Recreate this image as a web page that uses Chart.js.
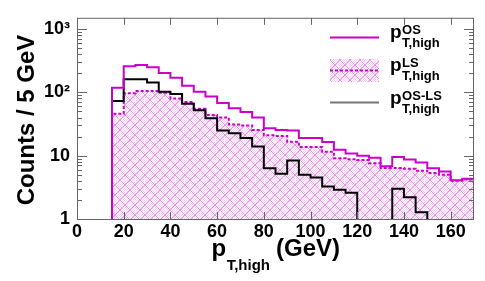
<!DOCTYPE html>
<html>
<head>
<meta charset="utf-8">
<title>pT,high</title>
<script src="https://cdn.jsdelivr.net/npm/chart.js@4.4.1/dist/chart.umd.min.js"></script>
<style>
    html, body { margin: 0; padding: 0; background: #fff; }
    #wrap { width: 485px; height: 281px; }
</style>
</head>
<body>
<div id="wrap"><canvas id="ptChart" width="485" height="281"></canvas></div>
<script>
// lower edges of the 5 GeV bins
const binLow = [15, 20, 25, 30, 35, 40, 45, 50, 55, 60, 65, 70, 75, 80, 85, 90, 95, 100,
                105, 110, 115, 120, 125, 130, 135, 140, 145, 150, 155, 160, 165];
const binHigh = 170;

const osCounts = [118, 258, 270, 249, 201, 170, 127, 102, 86, 68, 56, 49, 40, 27, 25.5, 25,
                  19, 19, 16.4, 12.4, 10.8, 10.0, 9.3, 6.8, 9.5, 8.7, 7.8, 6.3, 5.6, 4.1, 4.3];
const lsCounts = [46, 97, 105, 105, 98, 80, 70, 55, 44, 40, 31, 30, 25.5, 21, 20.5, 16.6,
                  13.7, 13.7, 11.5, 9.1, 8.8, 8.5, 7.6, 6.4, 6.4, 6.2, 5.8, 5.3, 5.0, 4.0, 4.2];
const osMinusLsCounts = [73, 160, 160, 143, 102, 94, 66, 52, 39, 25, 22.6, 19, 14, 6.3, 5.2, 8.4,
                         5.0, 4.5, 3.25, 2.9, 2.6, 0, 0, 0, 3.0, 2.2, 1.28, 0, 0, 0, 0];

const xTickValues = [0, 20, 40, 60, 80, 100, 120, 140, 160];
const yTickValues = [1, 10, 100, 1000];
const yTickLabels = ['1', '10', '10\u00B2', '10\u00B3'];

const FONT = '"Liberation Sans", Arial, sans-serif';
const MAGENTA = '#cc00cc';
const FRAME = '#666';

// empty bins sit below the log axis so the step drops to the frame
const FLOOR = 0.1;

function histPoints(counts) {
    const pts = [{ x: binLow[0], y: FLOOR }];
    counts.forEach((v, i) => pts.push({ x: binLow[i], y: v > 0 ? v : FLOOR }));
    const last = counts[counts.length - 1];
    pts.push({ x: binHigh, y: last > 0 ? last : FLOOR });
    return pts;
}

function makeHatch(ctx) {
    const n = 10;
    const c = document.createElement('canvas');
    c.width = n; c.height = n;
    const g = c.getContext('2d');
    g.fillStyle = '#f5d2f5';
    for (let y = 0; y < n; y++) {
        for (let x = 0; x < n; x++) {
            if ((x + y) % 2 === 0) g.fillRect(x, y, 1, 1);
        }
    }
    g.fillStyle = '#e597e5';
    for (let i = 0; i < n; i++) {
        g.fillRect(i, i, 1, 1);
        g.fillRect(n - 1 - i, i, 1, 1);
    }
    return ctx.createPattern(c, 'repeat');
}

// p with superscript / subscript, returns end x
function drawP(ctx, x, base, size, sup, sub, small, supUp, subDown) {
    ctx.font = 'bold ' + size + 'px ' + FONT;
    ctx.fillText('p', x, base);
    const px = x + ctx.measureText('p').width + 0.5;
    ctx.font = 'bold ' + small + 'px ' + FONT;
    let end = px;
    if (sup) {
        ctx.fillText(sup, px, base - supUp);
        end = Math.max(end, px + ctx.measureText(sup).width);
    }
    ctx.fillText(sub, px, base + subDown);
    end = Math.max(end, px + ctx.measureText(sub).width);
    return end;
}

const rootFrame = {
    id: 'rootFrame',
    afterDraw(chart) {
        const { ctx, chartArea: a, scales } = chart;
        const xs = scales.x, ys = scales.y;
        ctx.save();
        ctx.strokeStyle = FRAME;
        ctx.lineWidth = 1;
        ctx.strokeRect(a.left + 0.5, a.top + 0.5, a.right - a.left - 1, a.bottom - a.top);

        // inward ticks, x
        ctx.beginPath();
        xTickValues.forEach(v => {
            const px = Math.round(xs.getPixelForValue(v)) + 0.5;
            ctx.moveTo(px, a.bottom); ctx.lineTo(px, a.bottom - 7);
            ctx.moveTo(px, a.top); ctx.lineTo(px, a.top + 7);
        });
        // inward ticks, log y
        for (let d = 1; d <= 1000; d *= 10) {
            for (let m = 1; m <= 9; m++) {
                const v = d * m;
                if (v > ys.max) break;
                const py = Math.round(ys.getPixelForValue(v)) + 0.5;
                const len = m === 1 ? 10 : 5;
                ctx.moveTo(a.left, py); ctx.lineTo(a.left + len, py);
                ctx.moveTo(a.right, py); ctx.lineTo(a.right - len, py);
            }
        }
        ctx.stroke();

        // legend
        ctx.fillStyle = '#000';
        ctx.textBaseline = 'alphabetic';
        ctx.textAlign = 'left';
        const lx0 = 330, lx1 = 379, tx = 390;
        ctx.lineWidth = 2;
        ctx.strokeStyle = MAGENTA;
        ctx.beginPath(); ctx.moveTo(lx0, 37.5); ctx.lineTo(lx1, 37.5); ctx.stroke();
        drawP(ctx, tx, 38, 19, 'OS', 'T,high', 13, 4.5, 9);

        ctx.fillStyle = chart.data.datasets[2].backgroundColor;
        ctx.fillRect(lx0, 59, lx1 - lx0, 23);
        ctx.setLineDash([3, 2]);
        ctx.beginPath(); ctx.moveTo(lx0, 70.5); ctx.lineTo(lx1, 70.5); ctx.stroke();
        ctx.setLineDash([]);
        ctx.fillStyle = '#000';
        drawP(ctx, tx, 71, 19, 'LS', 'T,high', 13, 4.5, 9);

        ctx.strokeStyle = '#777';
        ctx.beginPath(); ctx.moveTo(lx0, 102.5); ctx.lineTo(lx1, 102.5); ctx.stroke();
        drawP(ctx, tx, 104, 19, 'OS-LS', 'T,high', 13, 4.5, 9);

        // axis titles
        const end = drawP(ctx, 211.5, 256, 24, null, 'T,high', 15, 0, 13.5);
        ctx.font = 'bold 24px ' + FONT;
        ctx.fillText('(GeV)', end + 6, 256);

        ctx.translate(33.5, 120);
        ctx.rotate(-Math.PI / 2);
        ctx.textAlign = 'center';
        ctx.fillText('Counts / 5 GeV', 0, 0);
        ctx.restore();
    }
};

document.addEventListener('DOMContentLoaded', () => {
    const canvas = document.getElementById('ptChart');
    const hatch = makeHatch(canvas.getContext('2d'));

    new Chart(canvas, {
        type: 'line',
        data: {
            datasets: [{
                label: 'OS',
                data: histPoints(osCounts),
                borderColor: MAGENTA,
                borderWidth: 2,
                stepped: 'before',
                pointRadius: 0,
                fill: false,
                clip: 0,
                order: 0
            }, {
                label: 'OS-LS',
                data: histPoints(osMinusLsCounts),
                borderColor: '#000',
                borderWidth: 2,
                stepped: 'before',
                pointRadius: 0,
                fill: false,
                clip: 0,
                order: 1
            }, {
                label: 'LS',
                data: histPoints(lsCounts),
                borderColor: MAGENTA,
                borderWidth: 2,
                borderDash: [3, 2],
                backgroundColor: hatch,
                stepped: 'before',
                pointRadius: 0,
                fill: 'start',
                clip: 0,
                order: 2
            }]
        },
        options: {
            responsive: false,
            animation: false,
            devicePixelRatio: 1,
            layout: { padding: { top: 13, right: 11, left: 0, bottom: 0 } },
            plugins: {
                legend: { display: false },
                tooltip: { enabled: false }
            },
            scales: {
                x: {
                    type: 'linear',
                    min: 0,
                    max: 170,
                    grid: { display: false, drawTicks: false },
                    border: { display: false },
                    ticks: {
                        stepSize: 20,
                        includeBounds: false,
                        autoSkip: false,
                        maxRotation: 0,
                        padding: 2,
                        color: '#000',
                        font: { family: FONT, size: 18, weight: 'bold' },
                        callback: v => xTickValues.includes(v) ? String(v) : ''
                    },
                    afterFit: s => { s.height = 62; }
                },
                y: {
                    type: 'logarithmic',
                    min: 1,
                    max: 1500,
                    grid: { display: false, drawTicks: false },
                    border: { display: false },
                    ticks: {
                        autoSkip: false,
                        padding: 7,
                        color: '#000',
                        font: { family: FONT, size: 18, weight: 'bold' },
                        callback: v => {
                            const i = yTickValues.indexOf(v);
                            return i >= 0 ? yTickLabels[i] : '';
                        }
                    },
                    afterFit: s => { s.width = 77; }
                }
            }
        },
        plugins: [rootFrame]
    });
});
</script>
</body>
</html>
